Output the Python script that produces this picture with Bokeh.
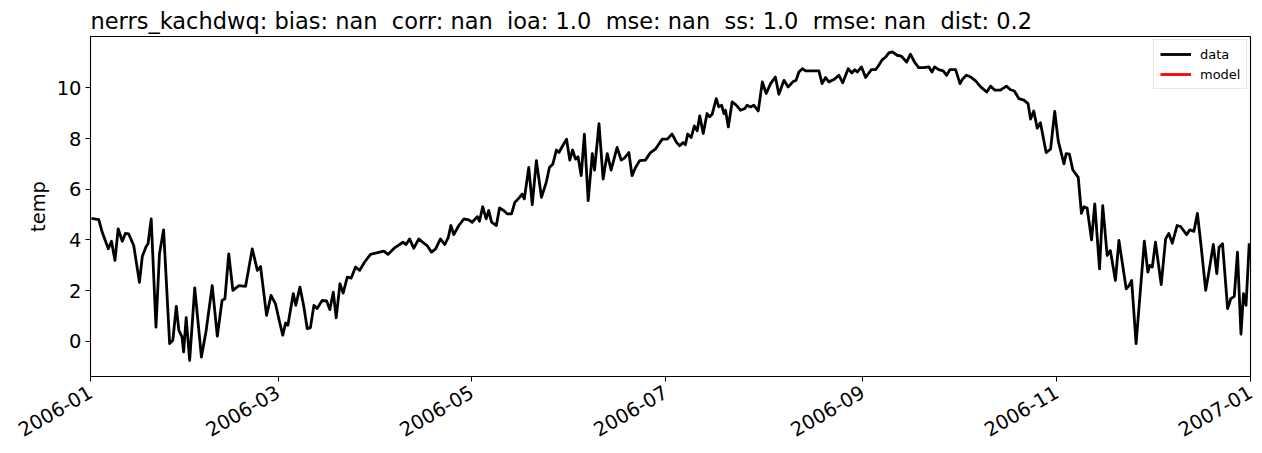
import math
import pandas as pd
from bokeh.plotting import figure
from bokeh.models import ColumnDataSource, Range1d, FixedTicker, DatetimeTickFormatter, Legend, LegendItem
from bokeh.embed import file_html
from bokeh.resources import INLINE

# days since 2006-01-01 and water temperature
days = [0.3, 2.6, 3.7, 5.6, 6.6, 7.7, 8.7, 10.0, 11.0, 12.0, 13.6, 15.4, 16.3, 17.5, 18.1, 19.1,
        20.6, 21.7, 23.0, 24.9, 25.9, 27.0, 27.8, 28.8, 29.3, 30.1, 31.2, 32.8, 34.9, 36.4, 38.3,
        39.9, 41.4, 42.3, 43.5, 44.8, 46.7, 48.8, 50.9, 52.5, 53.5, 55.4, 56.8, 58.2, 59.6, 60.5,
        61.4, 62.1, 63.8, 64.6, 65.9, 67.1, 68.2, 69.2, 70.3, 71.3, 72.9, 74.3, 75.3, 76.4, 77.3,
        78.5, 79.5, 80.8, 82.0, 83.4, 84.7, 86.2, 88.1, 89.7, 92.3, 93.6, 95.7, 98.3, 99.3, 100.4,
        101.7, 103.3, 104.9, 105.9, 107.3, 108.6, 110.1, 111.5, 112.6, 113.4, 114.3, 115.9, 117.5,
        119.0, 120.1, 121.7, 122.4, 123.4, 124.5, 125.3, 126.2, 127.7, 128.7, 130.0, 131.1, 132.5,
        133.5, 135.0, 135.8, 136.5, 137.9, 139.0, 140.3, 141.9, 143.4, 144.4, 145.5, 146.6, 147.4,
        148.4, 149.8, 150.8, 151.7, 152.6, 153.4, 154.4, 155.4, 156.6, 157.9, 158.6, 160.0, 161.3,
        162.6, 163.8, 165.7, 167.0, 168.0, 169.4, 170.4, 171.5, 172.8, 174.6, 176.2, 177.8, 179.9,
        181.5, 183.0, 184.4, 185.4, 186.5, 187.2, 187.9, 189.0, 190.0, 190.9, 191.7, 192.8, 194.0,
        194.8, 195.6, 196.9, 197.7, 198.6, 199.3, 199.8, 200.7, 201.9, 203.2, 204.5, 205.9, 206.6,
        207.7, 208.7, 210.1, 211.4, 212.6, 214.0, 215.5, 216.6, 218.2, 219.5, 221.0, 222.0, 222.9,
        224.0, 225.0, 229.2, 230.2, 231.3, 232.3, 233.9, 235.5, 236.7, 238.4, 239.5, 240.5, 241.3,
        242.6, 243.9, 245.7, 247.0, 247.7, 249.1, 250.2, 251.2, 252.3, 253.8, 255.1, 256.8, 258.0,
        259.3, 260.6, 262.2, 263.8, 264.8, 265.6, 266.9, 268.3, 269.4, 270.4, 272.2, 273.6, 274.3,
        275.6, 277.0, 278.5, 280.1, 282.0, 283.2, 284.6, 286.3, 288.2, 289.5, 290.7, 292.1, 293.7,
        295.0, 295.8, 296.8, 297.9, 298.9, 300.7, 302.1, 303.4, 304.5, 306.3, 307.0, 308.0, 309.1,
        310.8, 311.8, 312.6, 313.6, 315.0, 316.0, 317.5, 318.5, 319.9, 320.9, 322.5, 323.6, 325.9,
        326.8, 327.6, 329.0, 331.6, 332.7, 333.3, 334.1, 335.1, 336.9, 338.3, 339.3, 340.4, 341.9,
        343.0, 344.9, 345.9, 347.2, 348.3, 349.5, 350.9, 351.9, 353.3, 354.4, 355.1, 356.2, 357.8,
        358.8, 359.9, 360.9, 362.0, 362.8, 363.6, 364.6]
temp = [4.85, 4.80, 4.30, 3.65, 3.95, 3.19, 4.44, 3.95, 4.26, 4.24, 3.78, 2.33, 3.35, 3.74, 3.85, 4.83,
        0.56, 3.45, 4.40, -0.09, 0.04, 1.38, 0.43, 0.17, -0.42, 0.93, -0.75, 2.11, -0.62, 0.43, 2.20,
        0.20, 1.61, 1.68, 3.45, 2.01, 2.20, 2.17, 3.65, 2.80, 2.95, 1.02, 1.81, 1.48, 0.70, 0.24,
        0.72, 0.63, 1.88, 1.42, 2.14, 1.38, 0.50, 0.54, 1.42, 1.29, 1.61, 1.59, 1.25, 1.94, 0.93,
        2.27, 1.90, 2.53, 2.49, 2.93, 2.80, 3.12, 3.43, 3.48, 3.56, 3.43, 3.69, 3.91, 3.82, 4.04,
        3.67, 4.04, 3.87, 3.78, 3.52, 3.65, 4.04, 3.82, 4.11, 4.57, 4.21, 4.57, 4.83,
        4.79, 4.70, 4.92, 4.74, 5.31, 4.83, 5.16, 4.70, 4.57, 5.26, 5.16, 5.03, 5.03,
        5.48, 5.68, 5.81, 5.62, 6.86, 5.39, 7.13, 5.68, 6.27, 6.86, 7.00, 7.55, 7.45,
        7.68, 7.98, 7.15, 7.55, 7.19, 7.28, 6.54, 8.18, 5.55, 7.41, 6.76, 8.59, 6.40,
        7.41, 6.76, 7.65, 7.15, 7.23, 7.45, 6.54, 6.86, 7.13, 7.15, 7.45, 7.59, 7.98,
        7.98, 8.18, 7.85, 7.72, 7.85, 7.76, 8.18, 8.04, 8.50, 8.31, 8.90, 8.20, 8.99,
        8.86, 8.96, 9.58, 9.25, 9.32, 8.99, 9.12, 8.46, 9.45, 9.32, 9.12, 9.19, 9.32,
        9.25, 9.32, 9.09, 10.24, 9.78, 10.17, 10.43, 9.75, 10.30, 10.04, 10.24, 10.30, 10.63,
        10.76, 10.67, 10.67, 10.17, 10.41, 10.24, 10.33, 10.50, 10.20, 10.76, 10.59, 10.72, 10.63,
        10.83, 10.41, 10.72, 10.72, 10.83, 11.11, 11.22, 11.38, 11.42, 11.29, 11.26, 11.02, 11.33,
        11.02, 10.80, 10.80, 10.83, 10.63, 10.83, 10.72, 10.67, 10.50, 10.72, 10.72, 10.17, 10.33,
        10.50, 10.43, 10.28, 10.04, 9.84, 10.07, 9.91, 9.91, 10.07, 9.93, 9.88, 9.58, 9.52,
        9.38, 8.77, 9.09, 8.41, 8.63, 7.45, 7.59, 9.07, 7.91, 7.00, 7.41, 7.39, 6.76,
        6.47, 5.05, 5.31, 5.26, 4.00, 5.42, 2.86, 5.35, 3.39, 3.58, 2.40, 3.98, 2.07,
        2.20, 2.40, -0.09, 3.95, 2.73, 2.99, 2.93, 3.91, 2.24, 4.04, 4.26, 3.87, 4.57,
        4.53, 4.21, 4.40, 4.34, 5.05, 3.71, 2.01, 2.73, 3.82, 2.67, 3.71, 3.85, 1.29,
        1.68, 1.77, 3.52, 0.28, 1.88, 1.42, 3.87]

tick_dates = ["2006-01-01", "2006-03-01", "2006-05-01", "2006-07-01", "2006-09-01", "2006-11-01", "2007-01-01"]
y_ticks = [0, 2, 4, 6, 8, 10]
title = "nerrs_kachdwq: bias: nan  corr: nan  ioa: 1.0  mse: nan  ss: 1.0  rmse: nan  dist: 0.2"

start = pd.Timestamp("2006-01-01")
src = ColumnDataSource(dict(t=start + pd.to_timedelta(days, unit="D"), v=temp))

FONT = "DejaVu Sans"

p = figure(width=1258, height=449, x_axis_type="datetime",
           x_range=Range1d(start, pd.Timestamp("2007-01-01")), y_range=Range1d(-1.39, 12.03),
           output_backend="svg", toolbar_location=None,
           min_border_left=90, min_border_right=8, min_border_top=36, min_border_bottom=73)

# keep the double spaces visible in svg text
p.title.text = title.replace("  ", " \u00a0")
p.title.text_font = FONT
p.title.text_font_size = "22.5px"
p.title.text_font_style = "normal"
p.title.text_color = "black"
p.title.align = "left"
p.title.standoff = 6
p.title.offset = 0

r_data = p.line("t", "v", source=src, line_color="black", line_width=2.8, line_join="round")
r_model = p.line(x=[start], y=[float("nan")], line_color="red", line_width=2.8)

legend = Legend(items=[LegendItem(label="data", renderers=[r_data]),
                       LegendItem(label="model", renderers=[r_model])],
                location=(1063, 287))
legend.label_text_font = FONT
legend.label_text_font_size = "13px"
legend.label_text_color = "black"
legend.glyph_width = 31
legend.glyph_height = 16
legend.label_height = 16
legend.label_standoff = 9
legend.spacing = 4
legend.padding = 6
legend.border_line_color = "#d0d0d0"
legend.border_line_width = 1
p.add_layout(legend, "center")

p.grid.visible = False
p.outline_line_color = "black"
p.outline_line_width = 1.1

p.xaxis.ticker = FixedTicker(ticks=[pd.Timestamp(d).value // 10**6 for d in tick_dates])
fmt = "%Y-%m"
p.xaxis.formatter = DatetimeTickFormatter(milliseconds=fmt, seconds=fmt, minsec=fmt, minutes=fmt,
                                          hourmin=fmt, hours=fmt, days=fmt, months=fmt, years=fmt)
p.xaxis.major_label_orientation = math.pi / 6
p.yaxis.ticker = FixedTicker(ticks=y_ticks)
p.yaxis.axis_label = "temp"

for ax in (p.xaxis, p.yaxis):
    ax.major_label_text_font = FONT
    ax.major_label_text_font_size = "19.5px"
    ax.major_label_text_color = "black"
    ax.axis_label_text_font = FONT
    ax.axis_label_text_font_size = "19.5px"
    ax.axis_label_text_font_style = "normal"
    ax.axis_label_text_color = "black"
    ax.axis_line_color = "black"
    ax.major_tick_line_color = "black"
    ax.major_tick_out = 5
    ax.major_tick_in = 0
    ax.minor_tick_line_color = None
    ax.major_label_standoff = 4
p.xaxis.major_label_standoff = 9
p.yaxis.axis_label_standoff = 4

open("out.html", "w").write(file_html(p, INLINE))
